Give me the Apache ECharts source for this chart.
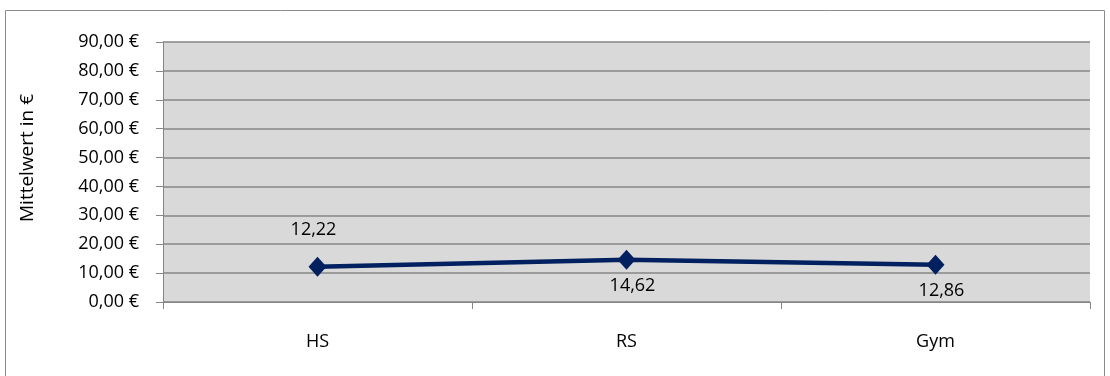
<!DOCTYPE html>
<html>
<head>
<meta charset="utf-8">
<script src="https://cdn.jsdelivr.net/npm/echarts@6/dist/echarts.min.js"></script>
<style>
  html, body { margin: 0; padding: 0; background: #fff; }
  #chart { width: 1110px; height: 376px; }
</style>
</head>
<body>
<div id="chart"></div>
<script>
// Schulformen und mittlere Beträge
const categories = ['HS', 'RS', 'Gym'];
const meanValues = [12.22, 14.62, 12.86];
const labelPlacement = ['top', 'bottom', 'bottom'];
const yMin = 0, yMax = 90, yStep = 10;

const fmtEuro = v => v.toFixed(2).replace('.', ',') + ' €';
const fmtNum = v => v.toFixed(2).replace('.', ',');

const labelStyles = {
  top: { position: 'top', distance: 18, offset: [-4, 0] },
  bottom: { position: 'bottom', distance: 7, offset: [6, 0] }
};

const chart = echarts.init(document.getElementById('chart'));
chart.setOption({
  animation: false,
  textStyle: { fontFamily: '"Open Sans", sans-serif' },
  graphic: [{
    type: 'rect',
    shape: { x: 5.5, y: 10.5, width: 1099, height: 420 },
    style: { fill: 'none', stroke: '#8c8c8c', lineWidth: 1 },
    silent: true
  }],
  grid: {
    left: 163, right: 20, top: 42, bottom: 74,
    show: true, backgroundColor: '#d9d9d9', borderWidth: 0
  },
  xAxis: {
    type: 'category',
    data: categories,
    boundaryGap: true,
    axisLine: { lineStyle: { color: '#868686', width: 1 } },
    axisTick: { show: true, length: 7, lineStyle: { color: '#868686' } },
    axisLabel: { color: '#000', fontSize: 18, margin: 31 }
  },
  yAxis: {
    type: 'value',
    min: yMin, max: yMax, interval: yStep,
    name: 'Mittelwert in €',
    nameLocation: 'middle',
    nameRotate: 90,
    nameGap: 126,
    nameTextStyle: { color: '#000', fontSize: 19, padding: [0, 0, 0, 28] },
    axisLine: { show: true, lineStyle: { color: '#868686', width: 1 } },
    axisTick: { show: true, length: 7, lineStyle: { color: '#868686' } },
    axisLabel: { color: '#000', fontSize: 18, margin: 24, formatter: fmtEuro },
    splitLine: { show: true, lineStyle: { color: '#868686', width: 1.5 } }
  },
  series: [{
    type: 'line',
    data: meanValues.map((v, i) => ({
      value: v,
      label: labelStyles[labelPlacement[i]]
    })),
    symbol: 'diamond',
    symbolSize: [18, 20],
    lineStyle: { color: '#002060', width: 4.5 },
    itemStyle: { color: '#002060' },
    label: {
      show: true,
      color: '#000',
      fontSize: 18,
      formatter: p => fmtNum(p.value)
    }
  }]
});
</script>
</body>
</html>
